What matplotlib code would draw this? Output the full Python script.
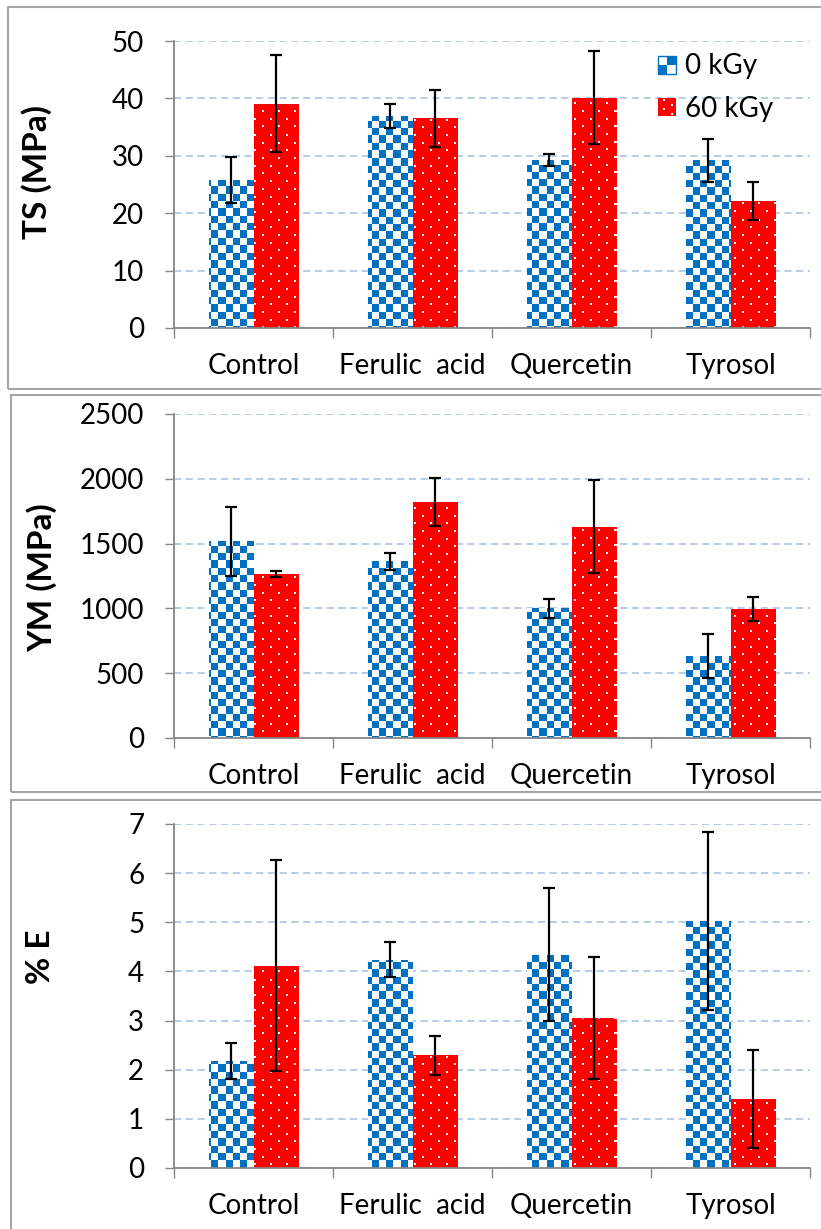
import numpy as np
import matplotlib
matplotlib.use("Agg")
import matplotlib.pyplot as plt
from matplotlib.patches import Rectangle
from matplotlib.legend_handler import HandlerBase

plt.rcParams['font.family'] = ['Lato', 'DejaVu Sans']

categories = ["Control", "Ferulic  acid", "Quercetin", "Tyrosol"]
series = ["0 kGy", "60 kGy"]

ts_0 = [25.8, 37.0, 29.3, 29.2]
ts_0_err = [4.0, 2.1, 1.0, 3.7]
ts_60 = [39.1, 36.5, 40.1, 22.2]
ts_60_err = [8.4, 4.9, 8.1, 3.3]

ym_0 = [1518, 1362, 1000, 631]
ym_0_err = [265, 65, 72, 168]
ym_60 = [1264, 1820, 1631, 995]
ym_60_err = [23, 183, 360, 92]

e_0 = [2.18, 4.24, 4.34, 5.02]
e_0_err = [0.37, 0.35, 1.35, 1.81]
e_60 = [4.12, 2.29, 3.05, 1.40]
e_60_err = [2.14, 0.40, 1.24, 1.00]

panels = [
    ("TS (MPa)", ts_0, ts_0_err, ts_60, ts_60_err, 50, 10),
    ("YM (MPa)", ym_0, ym_0_err, ym_60, ym_60_err, 2500, 500),
    ("% E", e_0, e_0_err, e_60, e_60_err, 7, 1),
]

BLUE = "#0070C0"
RED = "#FF0000"
GRID = "#B4C7E7"
AXIS = "#868686"

W, H = 821, 1229
fig = plt.figure(figsize=(W / 100, H / 100), dpi=100)

# axes boxes in pixels: (top, bottom)
ax_px = [(41, 328), (414, 738), (824, 1168)]
left_px, right_px = 174, 810
label_pos_px = [(37, 172), (42, 578), (40, 957)]
border_px = [(8, 7, 389), (11, 395, 792), (11, 800, 1240)]


def checker(h, w, cell=7.3):
    yy, xx = np.mgrid[0:h, 0:w]
    m = ((np.floor(xx / cell) + np.floor(yy / cell)) % 2).astype(bool)
    img = np.ones((h, w, 3))
    img[m] = matplotlib.colors.to_rgb(BLUE)
    return img


def dotted(h, w, px=16, py=15.4):
    yy, xx = np.mgrid[0:h, 0:w]
    row = np.floor(yy / (py / 2)).astype(int)
    shift = (row % 2) * (px / 2)
    m = (((xx + shift) % px) < 2) & ((yy % (py / 2)) < 2)
    img = np.zeros((h, w, 3))
    img[:] = matplotlib.colors.to_rgb(RED)
    img[m] = (1.0, 0.93, 0.93)
    return img


class PatternHandler(HandlerBase):
    def __init__(self, kind):
        super().__init__()
        self.kind = kind

    def create_artists(self, legend, orig_handle, xdescent, ydescent,
                       width, height, fontsize, trans):
        x0, y0 = -xdescent, -ydescent
        arts = []
        if self.kind == "blue":
            arts.append(Rectangle((x0, y0), width, height, facecolor="white",
                                  edgecolor=BLUE, lw=1, transform=trans))
            arts.append(Rectangle((x0 + width / 2, y0 + height / 2), width / 2, height / 2,
                                  facecolor=BLUE, lw=0, transform=trans))
            arts.append(Rectangle((x0, y0), width / 2, height / 2,
                                  facecolor=BLUE, lw=0, transform=trans))
        else:
            arts.append(Rectangle((x0, y0), width, height, facecolor=RED,
                                  lw=0, transform=trans))
            for fx, fy in [(0.25, 0.75), (0.75, 0.5), (0.25, 0.25), (0.75, 0.0)]:
                arts.append(Rectangle((x0 + fx * width, y0 + fy * height + 1), 1.5, 1.5,
                                      facecolor="white", lw=0, transform=trans))
        return arts


x = np.arange(len(categories)) + 0.5
bw = 0.283

for i, (ylab, v0, e0, v1, e1, ymax, ystep) in enumerate(panels):
    top, bot = ax_px[i]
    ax = fig.add_axes([left_px / W, 1 - bot / H, (right_px - left_px) / W, (bot - top) / H])
    ax.set_xlim(0, len(categories))
    ax.set_ylim(0, ymax)

    b0 = ax.bar(x - bw / 2, v0, bw, color=BLUE, lw=0, zorder=2)
    b1 = ax.bar(x + bw / 2, v1, bw, color=RED, lw=0, zorder=2)

    wpx, hpx = right_px - left_px, bot - top
    cimg = checker(hpx, wpx)
    dimg = dotted(hpx, wpx)
    for bars, img in [(b0, cimg), (b1, dimg)]:
        for p in bars:
            im = ax.imshow(img, extent=(0, len(categories), 0, ymax), aspect="auto",
                           interpolation="nearest", zorder=2.5)
            im.set_clip_path(p)

    ax.errorbar(x - bw / 2, v0, yerr=e0, fmt="none", ecolor="black", elinewidth=1.6,
                capsize=4.5, capthick=1.6, zorder=4)
    ax.errorbar(x + bw / 2, v1, yerr=e1, fmt="none", ecolor="black", elinewidth=1.6,
                capsize=4.5, capthick=1.6, zorder=4)
    ax.set_xlim(0, len(categories))
    ax.set_ylim(0, ymax)

    ax.set_yticks(np.arange(0, ymax + ystep / 2, ystep))
    ax.yaxis.grid(True, color=GRID, linestyle=(0, (4, 2.5)), linewidth=1.3, zorder=0)
    ax.set_axisbelow(True)
    ax.tick_params(axis="y", length=6.5, width=1, color=AXIS, pad=15, labelsize=20)

    ax.set_xticks(np.arange(len(categories) + 1))
    ax.set_xticklabels([])
    ax.set_xticks(x, minor=True)
    ax.set_xticklabels(categories, minor=True)
    ax.tick_params(axis="x", which="major", length=7, width=1, color=AXIS)
    ax.tick_params(axis="x", which="minor", length=0, pad=18, labelsize=20)

    for s in ["top", "right"]:
        ax.spines[s].set_visible(False)
    for s in ["left", "bottom"]:
        ax.spines[s].set_color(AXIS)
        ax.spines[s].set_linewidth(1.3)

    lx, ly = label_pos_px[i]
    fig.text(lx / W, 1 - ly / H, ylab, rotation=90, ha="center", va="center",
             fontsize=24, fontweight="bold")

    if i == 0:
        h0 = Rectangle((0, 0), 1, 1)
        h1 = Rectangle((0, 0), 1, 1)
        ax.legend([h0, h1], series, handler_map={h0: PatternHandler("blue"), h1: PatternHandler("red")},
                  loc="upper left", bbox_to_anchor=(639 / W, 1 - 34 / H), bbox_transform=fig.transFigure,
                  frameon=False, fontsize=20, handlelength=0.62, handleheight=0.62,
                  handletextpad=0.35, labelspacing=0.6, borderpad=0.2)

for (lx, ty, by) in border_px:
    fig.add_artist(Rectangle((lx / W, 1 - by / H), (W + 20 - lx) / W, (by - ty) / H,
                             transform=fig.transFigure, facecolor="none",
                             edgecolor="#A6A6A6", lw=1.5, clip_on=False))

fig.savefig("out.png", dpi=100)
